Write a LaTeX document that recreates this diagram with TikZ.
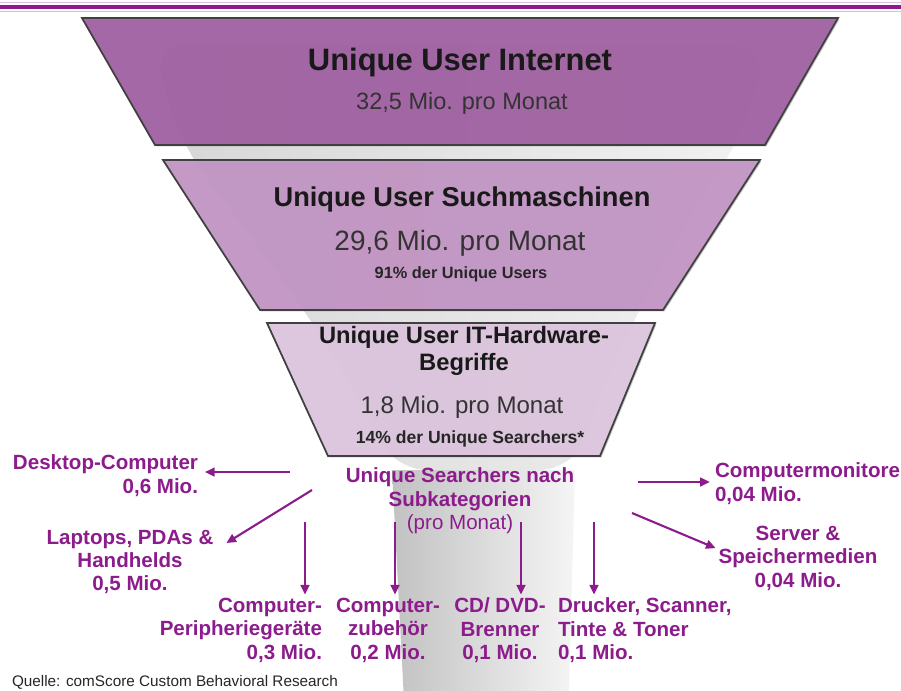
\documentclass[tikz,border=0pt]{standalone}
\usepackage{fontspec}
\setmainfont{Liberation Sans}
\usetikzlibrary{arrows.meta,shadows}
\definecolor{lila}{RGB}{140,28,140}
\definecolor{trapA}{RGB}{160,92,162}
\definecolor{trapB}{RGB}{196,148,198}
\definecolor{trapC}{RGB}{224,200,226}
\newcommand{\fsz}[2]{\fontsize{#1}{#2}\selectfont}
\begin{document}
\begin{tikzpicture}[x=0.02cm,y=-0.02cm,inner sep=0pt,outer sep=0pt,
funnelbox/.style={draw=black!75,line width=1pt,fill opacity=0.88,
  drop shadow={shadow xshift=0.8pt,shadow yshift=-0.8pt,opacity=0.45}},
catlabel/.style={text=lila,font=\bfseries\fsz{11.7}{13.3}},
catarrow/.style={draw=lila,line width=1.2pt,->},
>={Triangle[length=5.5pt,width=5pt]}]
\useasboundingbox (0,0) rectangle (901,690);
\fill[white] (0,0) rectangle (901,690);
\draw[lila!30,line width=1pt] (0,2.5) -- (901,2.5);
\draw[lila!30,line width=1pt] (0,11.5) -- (901,11.5);
\draw[lila,line width=2.4pt] (0,7) -- (901,7);
% glass funnel behind the levels
\shade[left color=black!16,right color=black!5,rounded corners=20pt]
  (152,45) -- (768,45) -- (742,135) .. controls (700,200) and (620,330) .. (575,470)
  -- (392,470) .. controls (330,330) and (220,200) .. (178,135) -- cycle;
\shade[left color=black!24,right color=black!4]
  (392,470) -- (575,470) -- (568,720) -- (405,720) -- cycle;
\path[funnelbox,fill=trapA] (82,18) -- (838,18) -- (765,145) -- (155,145) -- cycle;
\path[funnelbox,fill=trapB] (163,160) -- (760,160) -- (663,310) -- (260,310) -- cycle;
\path[funnelbox,fill=trapC] (267,323) -- (655,323) -- (600,456) -- (328,456) -- cycle;
\node[anchor=base,text=black!90,font=\bfseries\fsz{17.6}{20}] (inet) at (460,70) {Unique User Internet};
\node[anchor=base,text=black!80,font=\fsz{13.4}{16}] (inetval) at (462,109) {32,5 Mio. pro Monat};
\node[anchor=base,text=black!90,font=\bfseries\fsz{15.5}{18}] (such) at (462,206) {Unique User Suchmaschinen};
\node[anchor=base,text=black!80,font=\fsz{15.9}{18}] (suchval) at (460,250) {29,6 Mio. pro Monat};
\node[anchor=base,text=black!85,font=\bfseries\fsz{9.3}{11}] (suchpct) at (461,278) {91\% der Unique Users};
\node[anchor=north,align=center,text=black!90,font=\bfseries\fsz{13.5}{15.3}] (hw) at (464,326) {Unique User IT-Hardware-\\Begriffe};
\node[anchor=base,text=black!80,font=\fsz{13.7}{16}] (hwval) at (462,413) {1,8 Mio. pro Monat};
\node[anchor=base,text=black!85,font=\bfseries\fsz{10}{12}] (hwpct) at (470,443) {14\% der Unique Searchers*};
\node[catlabel,anchor=north,align=center] (sub) at (460,468) {Unique Searchers nach\\Subkategorien\\{\mdseries (pro Monat)}};
\node[catlabel,anchor=north east,align=right] (desk) at (198,455) {Desktop-Computer\\0,6 Mio.};
\node[catlabel,anchor=north,align=center] (lap) at (130,530) {Laptops, PDAs \&\\Handhelds\\0,5 Mio.};
\node[catlabel,anchor=north east,align=right] (peri) at (322,598) {Computer-\\Peripherieger\"ate\\0,3 Mio.};
\node[catlabel,anchor=north,align=center] (zub) at (388,598) {Computer-\\zubeh\"or\\0,2 Mio.};
\node[catlabel,anchor=north,align=center] (cd) at (500,598) {CD/ DVD-\\Brenner\\0,1 Mio.};
\node[catlabel,anchor=north west,align=left] (druck) at (558,598) {Drucker, Scanner,\\Tinte \& Toner\\0,1 Mio.};
\node[catlabel,anchor=north west,align=left] (mon) at (715,463) {Computermonitore\\0,04 Mio.};
\node[catlabel,anchor=north,align=center] (serv) at (798,526) {Server \&\\Speichermedien\\0,04 Mio.};
\node[anchor=base west,text=black!85,font=\fsz{8.7}{10}] (quelle) at (12,686) {Quelle: comScore Custom Behavioral Research};
\coordinate (s1) at (290,472);
\coordinate (s2) at (312,490);
\coordinate (s3) at (305,522);
\coordinate (s4) at (395,522);
\coordinate (s5) at (521,522);
\coordinate (s6) at (594,522);
\coordinate (s7) at (638,482);
\coordinate (s8) at (632,513);
\draw[catarrow,shorten >=4pt] (s1) -- (desk.east |- s1);
\draw[catarrow] (s2) -- ([shift={(13,13)}]lap.north east);
\draw[catarrow,shorten >=2pt] (s3) -- (s3 |- peri.north);
\draw[catarrow,shorten >=2pt] (s4) -- (s4 |- zub.north);
\draw[catarrow,shorten >=2pt] (s5) -- (s5 |- cd.north);
\draw[catarrow,shorten >=2pt] (s6) -- (s6 |- druck.north);
\draw[catarrow,shorten >=3pt] (s7) -- (mon.west |- s7);
\draw[catarrow] (s8) -- ([shift={(-3,-10)}]serv.west);
\end{tikzpicture}
\end{document}
